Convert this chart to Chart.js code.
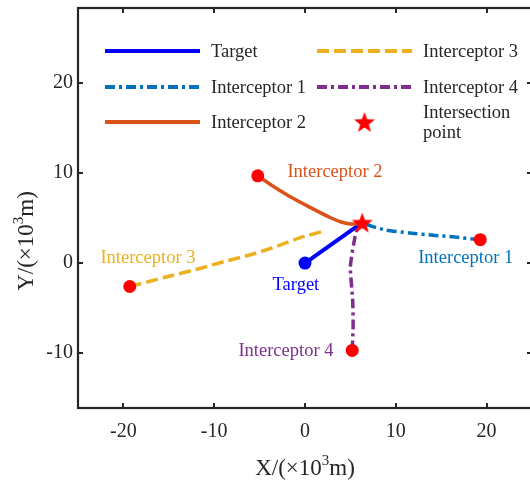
<!DOCTYPE html>
<html>
<head>
<meta charset="utf-8">
<script src="https://cdn.jsdelivr.net/npm/chart.js@4/dist/chart.umd.min.js"></script>
<style>
  html, body { margin: 0; padding: 0; background: #ffffff; overflow: hidden; }
  canvas { display: block; }
</style>
</head>
<body>
<canvas id="c" width="534" height="486"></canvas>
<script>
// Tick values
const xTicks = [-20, -10, 0, 10, 20];
const yTicks = [-10, 0, 10, 20];

// Trajectories, in units of 10^3 m: [x, y]
const target       = [[0, 0], [6.3, 4.5]];
const interceptor1 = [[19.3, 2.6], [16.5, 2.9], [14.1, 3.1], [11.5, 3.35], [9.0, 3.65], [7.5, 4.05], [6.3, 4.5]];
const interceptor2 = [[-5.2, 9.7], [-3.6, 8.6], [-2.0, 7.6], [-0.4, 6.7], [1.3, 5.8], [2.7, 5.1], [3.9, 4.6], [5.0, 4.35], [6.1, 4.4]];
const interceptor3 = [[-19.3, -2.6], [-15.5, -1.6], [-11.6, -0.6], [-8.8, 0.2], [-6.1, 0.9], [-3.3, 1.8], [-0.6, 2.8], [2.2, 3.6]];
const interceptor4 = [[5.2, -9.7], [5.3, -7.0], [5.25, -4.1], [5.0, -0.4], [5.5, 2.9], [5.8, 3.9], [6.3, 4.5]];
const intersection = [[6.3, 4.5]];

const seriesNames = ['Target', 'Interceptor 1', 'Interceptor 2', 'Interceptor 3', 'Interceptor 4'];
const seriesData  = [target, interceptor1, interceptor2, interceptor3, interceptor4];
const seriesColors = ['#0000FF', '#0072BD', '#D95319', '#EDB120', '#7E2F8E'];
const seriesDash   = [[], [10, 4, 3, 4], [], [12, 5], [10, 4, 3, 4]];
const startColors  = ['#0000FF', '#FF0000', '#FF0000', '#FF0000', '#FF0000'];

// Name annotations placed next to each trajectory (data coordinates)
const annotations = [
  { text: 'Interceptor 2', x: 3.3,   y: 10.1, color: '#D95319' },
  { text: 'Interceptor 1', x: 17.7,  y: 0.6,  color: '#0072BD' },
  { text: 'Interceptor 3', x: -17.3, y: 0.6,  color: '#EDB120' },
  { text: 'Target',        x: -1.0,  y: -2.4, color: '#0000FF' },
  { text: 'Interceptor 4', x: -2.1,  y: -9.8, color: '#7E2F8E' }
];

const SERIF = '"Liberation Serif", "Times New Roman", serif';
const AXIS_COLOR = '#262626';

// Filled five-point star used as the intersection marker
function makeStar(size, color) {
  const cv = document.createElement('canvas');
  cv.width = size; cv.height = size;
  const g = cv.getContext('2d');
  const cx = size / 2, cy = size / 2 + 1, R = size / 2, r = R * 0.42;
  g.beginPath();
  for (let i = 0; i < 10; i++) {
    const rad = i % 2 === 0 ? R : r;
    const a = -Math.PI / 2 + i * Math.PI / 5;
    const px = cx + rad * Math.cos(a), py = cy + rad * Math.sin(a);
    if (i === 0) g.moveTo(px, py); else g.lineTo(px, py);
  }
  g.closePath();
  g.fillStyle = color;
  g.fill();
  return cv;
}
const starImg = makeStar(22, '#FF0000');

const datasets = seriesData.map((pts, i) => ({
  label: seriesNames[i],
  data: pts.map(p => ({ x: p[0], y: p[1] })),
  showLine: true,
  borderColor: seriesColors[i],
  borderWidth: i === 0 ? 4 : 3.5,
  borderDash: seriesDash[i],
  borderCapStyle: 'butt',
  tension: 0.2,
  pointRadius: pts.map((p, k) => k === 0 ? 6.5 : 0),
  pointHoverRadius: 0,
  pointBackgroundColor: startColors[i],
  pointBorderColor: startColors[i],
  pointBorderWidth: 0,
  order: 5 - i
}));
datasets.push({
  label: 'Intersection point',
  data: intersection.map(p => ({ x: p[0], y: p[1] })),
  showLine: false,
  pointStyle: starImg,
  pointRadius: 11,
  order: -1
});

// Box around the plot with inward tick marks on all four sides
const boxPlugin = {
  id: 'boxTicks',
  afterDraw(chart) {
    const { ctx, chartArea: a, scales: { x, y } } = chart;
    ctx.save();
    ctx.strokeStyle = AXIS_COLOR;
    ctx.lineWidth = 2;
    const tl = 5;
    ctx.beginPath();
    xTicks.forEach(v => {
      const px = Math.round(x.getPixelForValue(v));
      ctx.moveTo(px, a.bottom); ctx.lineTo(px, a.bottom - tl);
      ctx.moveTo(px, a.top);    ctx.lineTo(px, a.top + tl);
    });
    yTicks.forEach(v => {
      const py = Math.round(y.getPixelForValue(v));
      ctx.moveTo(a.left, py);  ctx.lineTo(a.left + tl, py);
      ctx.moveTo(a.right, py); ctx.lineTo(a.right - tl, py);
    });
    ctx.stroke();
    ctx.lineWidth = 2.2;
    ctx.strokeRect(a.left, a.top, a.right - a.left, a.bottom - a.top);
    ctx.restore();
  }
};

// Text with a superscript part, centred on (cx, cy)
function drawSupText(ctx, parts, cx, cy, size) {
  const supSize = Math.round(size * 0.65);
  let total = 0;
  parts.forEach(p => {
    ctx.font = (p.sup ? supSize : size) + 'px ' + SERIF;
    p.w = ctx.measureText(p.t).width;
    total += p.w;
  });
  let xpos = cx - total / 2;
  ctx.textAlign = 'left';
  ctx.textBaseline = 'alphabetic';
  parts.forEach(p => {
    ctx.font = (p.sup ? supSize : size) + 'px ' + SERIF;
    ctx.fillText(p.t, xpos, cy + size * 0.33 - (p.sup ? size * 0.42 : 0));
    xpos += p.w;
  });
}

const titlePlugin = {
  id: 'axisTitles',
  afterDraw(chart) {
    const { ctx } = chart;
    ctx.save();
    ctx.fillStyle = AXIS_COLOR;
    drawSupText(ctx, [{ t: 'X/(×10' }, { t: '3', sup: true }, { t: 'm)' }], 305, 467, 23);
    ctx.translate(25, 241);
    ctx.rotate(-Math.PI / 2);
    drawSupText(ctx, [{ t: 'Y/(×10' }, { t: '3', sup: true }, { t: 'm)' }], 0, 0, 23);
    ctx.restore();
  }
};

const labelPlugin = {
  id: 'seriesLabels',
  afterDatasetsDraw(chart) {
    const { ctx, scales: { x, y } } = chart;
    ctx.save();
    ctx.font = '18.5px ' + SERIF;
    ctx.textAlign = 'center';
    ctx.textBaseline = 'middle';
    annotations.forEach(an => {
      ctx.fillStyle = an.color;
      ctx.fillText(an.text, x.getPixelForValue(an.x), y.getPixelForValue(an.y));
    });
    ctx.restore();
  }
};

// Two-column legend in the upper-left of the plot
const legendPlugin = {
  id: 'innerLegend',
  afterDraw(chart) {
    const { ctx, chartArea: a } = chart;
    const entries = [
      { i: 0, col: 0, row: 0 }, { i: 1, col: 0, row: 1 }, { i: 2, col: 0, row: 2 },
      { i: 3, col: 1, row: 0 }, { i: 4, col: 1, row: 1 }
    ];
    const colX = [a.left + 27, a.left + 239];
    const rowY = [a.top + 43, a.top + 79, a.top + 114];
    const lineLen = 95, textGap = 11;
    ctx.save();
    ctx.font = '18.5px ' + SERIF;
    ctx.textAlign = 'left';
    ctx.textBaseline = 'middle';
    entries.forEach(e => {
      const x0 = colX[e.col], y0 = rowY[e.row];
      ctx.strokeStyle = seriesColors[e.i];
      ctx.lineWidth = 4;
      ctx.lineCap = 'butt';
      ctx.setLineDash(seriesDash[e.i]);
      ctx.beginPath();
      ctx.moveTo(x0, y0); ctx.lineTo(x0 + lineLen, y0);
      ctx.stroke();
      ctx.setLineDash([]);
      ctx.fillStyle = AXIS_COLOR;
      ctx.fillText(seriesNames[e.i], x0 + lineLen + textGap, y0 + 1);
    });
    const sx = colX[1] + lineLen / 2, sy = rowY[2];
    ctx.drawImage(starImg, sx - 11, sy - 11);
    ctx.fillText('Intersection', colX[1] + lineLen + textGap, sy - 9);
    ctx.fillText('point', colX[1] + lineLen + textGap, sy + 11);
    ctx.restore();
  }
};

// Fix the scale box sizes and drop the automatic label overhang margins
function fitX(s) {
  s.height = 78;
  s.paddingLeft = 0; s.paddingRight = 0;
}
function fitY(s) {
  s.width = 78;
  s.paddingTop = 0; s.paddingBottom = 0;
}

new Chart(document.getElementById('c'), {
  type: 'scatter',
  data: { datasets },
  options: {
    responsive: false,
    animation: false,
    devicePixelRatio: 1,
    layout: { autoPadding: false, padding: { top: 8, right: 2, left: 0, bottom: 0 } },
    plugins: { legend: { display: false }, tooltip: { enabled: false } },
    scales: {
      x: {
        type: 'linear', min: -25, max: 25,
        afterBuildTicks: s => { s.ticks = xTicks.map(v => ({ value: v })); },
        afterFit: fitX,
        grid: { display: false, drawTicks: false },
        border: { display: false },
        ticks: { padding: 12, color: AXIS_COLOR, font: { family: SERIF, size: 20 } }
      },
      y: {
        type: 'linear', min: -16.1, max: 28.35,
        afterBuildTicks: s => { s.ticks = yTicks.map(v => ({ value: v })); },
        afterFit: fitY,
        grid: { display: false, drawTicks: false },
        border: { display: false },
        ticks: { padding: 5, color: AXIS_COLOR, font: { family: SERIF, size: 20 } }
      }
    }
  },
  plugins: [boxPlugin, titlePlugin, labelPlugin, legendPlugin]
});
</script>
</body>
</html>
